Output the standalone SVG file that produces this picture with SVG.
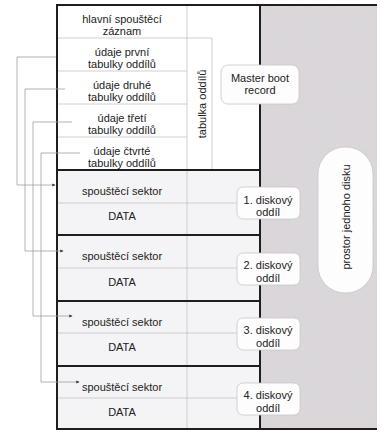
<svg xmlns="http://www.w3.org/2000/svg" width="380" height="432" viewBox="0 0 380 432">
<style>
text{font-family:"Liberation Sans",Arial,sans-serif;font-size:11px;fill:#222;text-anchor:middle}
.thick{stroke:#1e1e1e;stroke-width:2;fill:none}
.thin{stroke:#c4c2c6;stroke-width:0.8;fill:none}
.conn{stroke:#a0a0a0;stroke-width:0.8;fill:none}
.lbl{fill:#fdfdfd;stroke:#c8c6c8;stroke-width:0.8}
</style>
<defs>
<marker id="arr" viewBox="0 0 6 6" refX="5" refY="3" markerWidth="4" markerHeight="4" orient="auto">
<path d="M0,0 L6,3 L0,6 z" fill="#333"/>
</marker>
<filter id="noise" x="0" y="0" width="100%" height="100%">
<feTurbulence type="fractalNoise" baseFrequency="0.9" numOctaves="2" seed="3" result="n"/>
<feColorMatrix type="matrix" values="0 0 0 0 0.55  0 0 0 0 0.53  0 0 0 0 0.55  0 0 0 0.3 0" in="n" result="c"/>
<feComposite in="c" in2="SourceGraphic" operator="in" result="m"/>
<feMerge><feMergeNode in="SourceGraphic"/><feMergeNode in="m"/></feMerge>
</filter>
</defs>
<rect x="0" y="0" width="380" height="432" fill="#ffffff"/>
<g id="disk-space">
<rect x="260" y="5" width="117" height="424" fill="#dedade" filter="url(#noise)"/>
</g>
<g id="partitions-bg">
<rect x="57" y="170" width="203" height="259" fill="#f4f3f5"/>
</g>
<g id="grid">
<line class="thin" x1="187" y1="5" x2="187" y2="429"/>
<line class="thin" x1="57" y1="38" x2="212" y2="38"/>
<line class="thin" x1="57" y1="71" x2="187" y2="71"/>
<line class="thin" x1="57" y1="104" x2="187" y2="104"/>
<line class="thin" x1="57" y1="137" x2="187" y2="137"/>
<line class="thin" x1="212" y1="38" x2="212" y2="169"/>
<line class="thin" x1="57" y1="203" x2="260" y2="203"/>
<line class="thin" x1="57" y1="268" x2="260" y2="268"/>
<line class="thin" x1="57" y1="333" x2="260" y2="333"/>
<line class="thin" x1="57" y1="398" x2="260" y2="398"/>
<line class="thick" x1="57" y1="170" x2="260" y2="170"/>
<line class="thick" x1="57" y1="235" x2="260" y2="235"/>
<line class="thick" x1="57" y1="301" x2="260" y2="301"/>
<line class="thick" x1="57" y1="366" x2="260" y2="366"/>
<line class="thick" x1="57" y1="5" x2="377" y2="5"/>
<line class="thick" x1="57" y1="429" x2="377" y2="429"/>
<line class="thick" x1="57" y1="4" x2="57" y2="430"/>
<line class="thick" x1="260" y1="5" x2="260" y2="429"/>
</g>
<g id="mbr-rows">
<text x="122" y="23">hlavní spouštěcí</text>
<text x="122" y="35">záznam</text>
<text x="122" y="56">údaje první</text>
<text x="122" y="68">tabulky oddílů</text>
<text x="122" y="89">údaje druhé</text>
<text x="122" y="101">tabulky oddílů</text>
<text x="122" y="122">údaje třetí</text>
<text x="122" y="134">tabulky oddílů</text>
<text x="122" y="155">údaje čtvrté</text>
<text x="122" y="167">tabulky oddílů</text>
</g>
<g id="tabulka">
<text transform="translate(206,104) rotate(-90)">tabulka oddílů</text>
</g>
<g id="p1">
<text x="122" y="195">spouštěcí sektor</text>
<text x="122" y="220">DATA</text>
</g>
<g id="p2">
<text x="122" y="260">spouštěcí sektor</text>
<text x="122" y="286">DATA</text>
</g>
<g id="p3">
<text x="122" y="326">spouštěcí sektor</text>
<text x="122" y="351">DATA</text>
</g>
<g id="p4">
<text x="122" y="391">spouštěcí sektor</text>
<text x="122" y="416">DATA</text>
</g>
<g id="mbr-label">
<rect class="lbl" x="221" y="65" width="78" height="39" rx="7"/>
<text x="260" y="82">Master boot</text>
<text x="260" y="94">record</text>
</g>
<g id="label1">
<rect class="lbl" x="237" y="187" width="63" height="32" rx="6"/>
<text x="268" y="203.5">1. diskový</text>
<text x="268" y="216">oddíl</text>
</g>
<g id="label2">
<rect class="lbl" x="237" y="253" width="63" height="32" rx="6"/>
<text x="268" y="269">2. diskový</text>
<text x="268" y="281.5">oddíl</text>
</g>
<g id="label3">
<rect class="lbl" x="237" y="318" width="63" height="32" rx="6"/>
<text x="268" y="334">3. diskový</text>
<text x="268" y="346.5">oddíl</text>
</g>
<g id="label4">
<rect class="lbl" x="237" y="383" width="63" height="32" rx="6"/>
<text x="268" y="399">4. diskový</text>
<text x="268" y="411.5">oddíl</text>
</g>
<g id="disk-label">
<rect class="lbl" x="318" y="147" width="55" height="146" rx="27"/>
<text transform="translate(350,217) rotate(-90)">prostor jednoho disku</text>
</g>
<g id="connectors">
<polyline class="conn" points="56,57 17,57 17,185 55,185" marker-end="url(#arr)"/>
<polyline class="conn" points="65,89 25,89 25,251 63,251" marker-end="url(#arr)"/>
<polyline class="conn" points="72,122 33,122 33,316 72,316" marker-end="url(#arr)"/>
<polyline class="conn" points="80,153 41,153 41,382 79,382" marker-end="url(#arr)"/>
</g>
</svg>
